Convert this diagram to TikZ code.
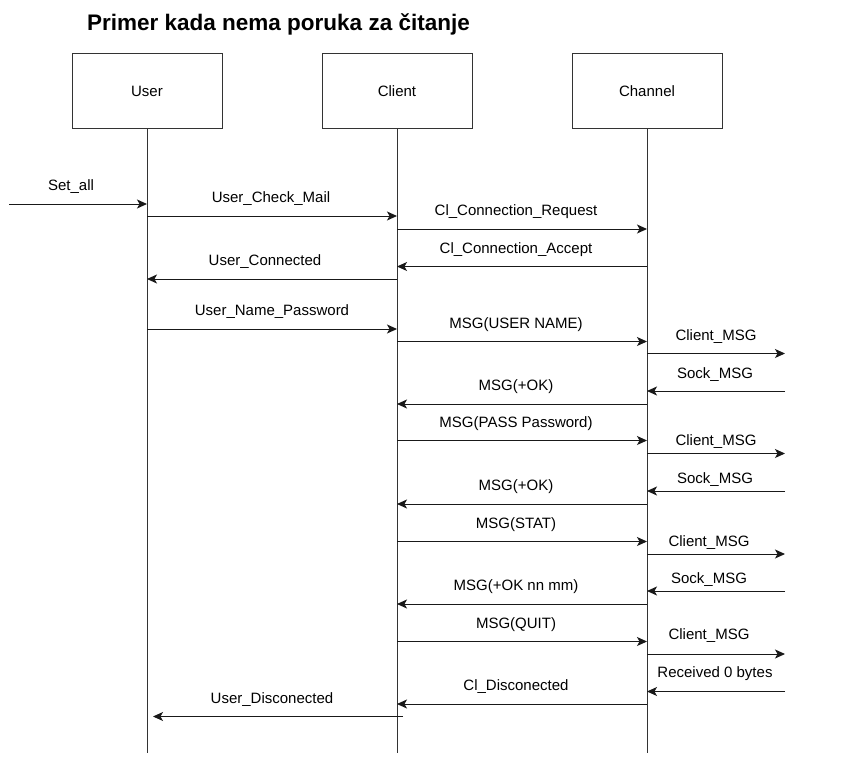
\documentclass[tikz,border=0pt]{standalone}
\usepackage{fontspec}
\setmainfont{Liberation Sans}
\usetikzlibrary{arrows.meta}

\begin{document}
\begin{tikzpicture}[x=1pt,y=-1pt,line width=1pt,
		actor/.style={draw=black!80,minimum width=150pt,minimum height=75pt,font=\fontsize{15}{18}\selectfont},
		msg/.style={draw=black!90,-{Stealth[length=10pt,width=9pt,inset=2.5pt]}},
		lbl/.style={font=\fontsize{15}{18}\selectfont,inner sep=0pt,anchor=base}]
			\useasboundingbox (0,0) rectangle (852,782);
			\node[anchor=base,font=\bfseries\fontsize{22.5}{26}\selectfont] (title) at (278.5,30) {Primer kada nema poruka za čitanje};
			% lifelines
			\foreach \id/\txt/\x in {user/User/147,client/Client/397,channel/Channel/647} {
				\node[actor] (\id) at (\x,91) {\txt};
				\coordinate (\id-end) at (\x,753);
				\draw[black!80] (\id) -- (\id-end);
			}
			\coordinate (env) at (9,0);
			\coordinate (net) at (785,0);
			% messages
			\draw[msg] (env |- 0,204) -- (user |- 0,204) node[lbl] at (71,190) {Set\_all};
			\foreach \a/\b/\y/\lx/\dy/\txt in {
				user/client/216/271/13.5/User\_Check\_Mail,
				client/channel/229/516/14/Cl\_Connection\_Request,
				channel/client/266.5/516/13.5/Cl\_Connection\_Accept,
				client/user/279/265/13.5/User\_Connected,
				user/client/329/272/13.5/User\_Name\_Password,
				client/channel/341.5/516/13.5/MSG(USER NAME),
				channel/net/353.5/716/13/Client\_MSG,
				net/channel/391/715/13/Sock\_MSG,
				channel/client/404/516/13.5/MSG(+OK),
				client/channel/440.5/516/13/MSG(PASS Password),
				channel/net/453.5/716/8/Client\_MSG,
				net/channel/491/715/8/Sock\_MSG,
				channel/client/504/516/13.5/MSG(+OK),
				client/channel/541.5/516/13.5/MSG(STAT),
				channel/net/554/709/8/Client\_MSG,
				net/channel/591/709/7.5/Sock\_MSG,
				channel/client/604/516/13.5/MSG(+OK nn mm),
				client/channel/641.5/516/13.5/MSG(QUIT),
				channel/net/654/709/15/Client\_MSG,
				net/channel/691.5/715/14/Received 0 bytes,
				channel/client/704/516/13.5/Cl\_Disconected} {
				\draw[msg] (\a |- 0,\y) -- (\b |- 0,\y);
				\node[lbl] at (\lx,\y-\dy) {\txt};
			}
			\draw[msg] ([xshift=6pt]client |- 0,716.5) -- ([xshift=6pt]user |- 0,716.5) node[lbl] at (272,703) {User\_Disconected};
		\end{tikzpicture}
\end{document}
